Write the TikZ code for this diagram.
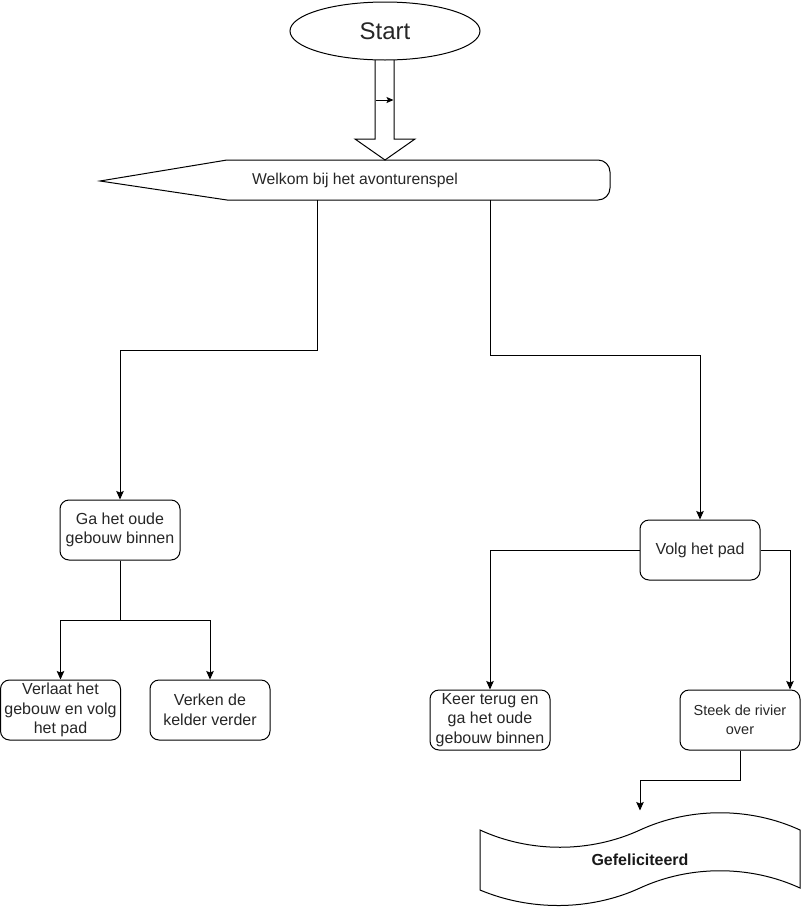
\documentclass[tikz,border=0pt]{standalone}
\usepackage{fontspec}
\setmainfont{Liberation Sans}
\usetikzlibrary{shapes.geometric,arrows.meta}
\begin{document}
\begin{tikzpicture}[x=1pt,y=-1pt,line width=1pt,
  arr/.style={-{Stealth[length=8.5pt,width=7.5pt,inset=1.5pt]}},
  box/.style={draw,rounded corners=9pt,minimum width=120pt,minimum height=60pt,inner sep=0pt,align=center,font=\fontsize{16}{19.5}\selectfont,text=black!85},
  plain/.style={inner sep=0pt,align=center}]
\useasboundingbox (0,0) rectangle (801,911);
% Start
\node[ellipse,draw,minimum width=190pt,minimum height=58pt,inner sep=0pt,font=\fontsize{24}{28}\selectfont,text=black!85] (start) at (385,31) {Start};
% block arrow
\draw (375,60) -- (375,139) -- (355,139) -- (385,160) -- (415,139) -- (394,139) -- (394,60);
\coordinate (sa) at (376,100);
\coordinate (sb) at (393.5,100);
\draw[-{Stealth[length=7pt,width=6pt,inset=1.5pt]}] (sa) -- (sb);
% welcome display shape
\draw (227,160) -- (598,160) arc[start angle=90,end angle=0,radius=12pt]
   -- (610,188) arc[start angle=0,end angle=-90,radius=12pt] -- (227,200) -- (100,181) -- cycle;
\node[plain,font=\fontsize{15.7}{18}\selectfont,text=black!85,minimum width=510pt,minimum height=40pt] (welcome) at (355,180) {Welkom bij het avonturenspel};
\coordinate (wl) at (317,200);
\coordinate (wr) at (490,200);
% boxes
\node[box] (ga) at (120,530) {Ga het oude\\gebouw binnen};
\node[box] (verlaat) at (60.5,710) {Verlaat het\\gebouw en volg\\het pad};
\node[box] (verken) at (210,710) {Verken de\\kelder verder};
\node[box] (volg) at (700,550) {Volg het pad};
\node[box] (keer) at (490,720) {Keer terug en\\ga het oude\\gebouw binnen};
\node[box,font=\fontsize{14.5}{19.5}\selectfont] (steek) at (740,720) {Steek de rivier\\over};
% tape
\draw (480,830) .. controls (530,853) and (590,853) .. (640,830) .. controls (690,807) and (750,807) .. (800,830)
   -- (800,888) .. controls (750,865) and (690,865) .. (640,888) .. controls (590,911) and (530,911) .. (480,890) -- cycle;
\node[plain,minimum width=320pt,minimum height=98pt,font=\bfseries\fontsize{16}{19}\selectfont,text=black!90] (gef) at (640,860) {Gefeliciteerd};
% connectors
\draw[arr] (wl) -- (317,350) -| (ga.north);
\draw[arr] (wr) -- (490,355) -| (volg.north);
\draw[arr] (ga.south) -- ++(0,60) -| (verlaat.north);
\draw[arr] (ga.south) -- ++(0,60) -| (verken.north);
\draw[arr] (volg.west) -| (keer.north);
\draw[arr] (volg.east) -| ([xshift=50pt]steek.north);
\draw[arr] (steek.south) -- ++(0,30) -| (gef.north);
\end{tikzpicture}
\end{document}
